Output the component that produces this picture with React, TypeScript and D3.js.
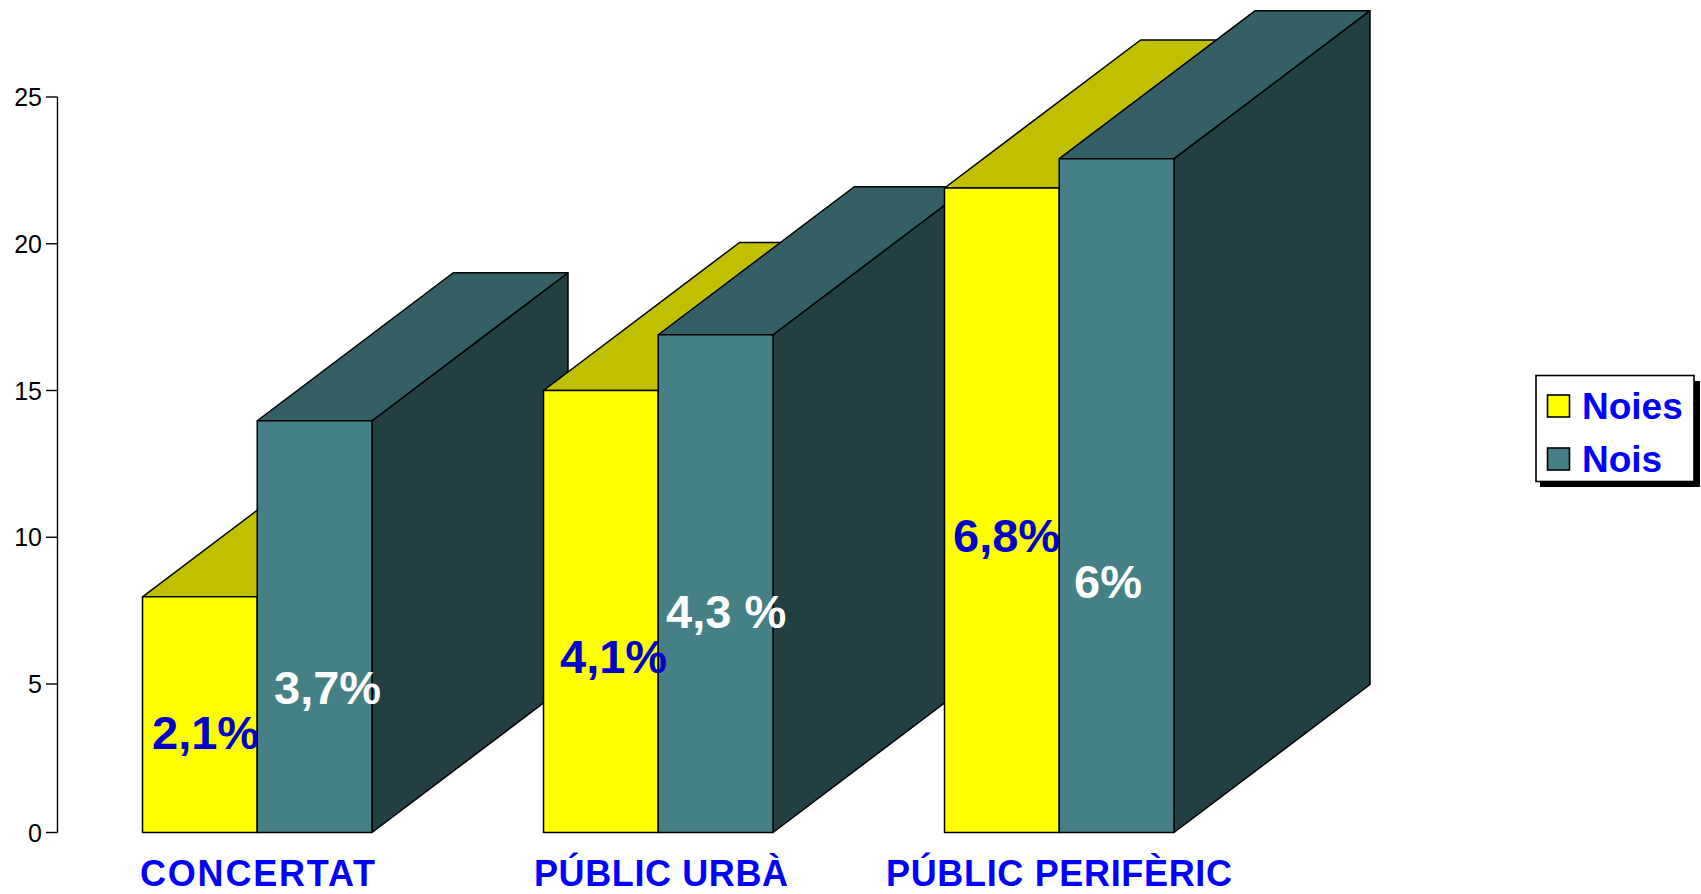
import React from "react";
import * as d3 from "d3";

// Survey groups and the two series plotted for each of them
const categories = ["CONCERTAT", "PÚBLIC URBÀ", "PÚBLIC PERIFÈRIC"];
const seriesNames = ["Noies", "Nois"];
const noies = [7.97, 15, 21.9];
const nois = [13.97, 16.9, 22.9];
const noiesLabels = ["2,1%", "4,1%", "6,8%"];
const noisLabels = ["3,7%", "4,3 %", "6%"];
const yTicks = [0, 5, 10, 15, 20, 25];

// Layout of the hand-placed annotations
const noiesLabelPos = [[152, 749], [560, 673], [953, 552]];
const noisLabelPos = [[274, 704], [666, 628], [1074, 598]];
const categoryLabelPos = [[140, 235], [534, 254], [886, 346]];

const palette = [
  { front: "#FFFF00", top: "#C0C000", side: "#808000" },
  { front: "#458087", top: "#345F65", side: "#223F43" },
];
const FONT = '"Liberation Sans", Arial, sans-serif';
const DEPTH_X = 196;
const DEPTH_Y = 148;
const BASE_Y = 832.5;

const y = d3.scaleLinear().domain([0, 5, 25]).range([BASE_Y, 684, 97]);
const xGroup = d3.scaleBand<string>().domain(categories).range([142.5, 1174]).paddingInner(0.4277);
const xBar = d3.scaleBand<string>().domain(seriesNames).range([0, xGroup.bandwidth()]);
const face = d3.line();

function Bar({ x0, w, value, colors }: { x0: number; w: number; value: number; colors: typeof palette[number] }) {
  const x1 = x0 + w;
  const yTop = y(value);
  const stroke = { stroke: "#000", strokeWidth: 1.5, strokeLinejoin: "round" as const };
  return (
    <g>
      <path
        d={face([[x1, BASE_Y], [x1 + DEPTH_X, BASE_Y - DEPTH_Y], [x1 + DEPTH_X, yTop - DEPTH_Y], [x1, yTop]]) + "Z"}
        fill={colors.side}
        {...stroke}
      />
      <path
        d={face([[x0, yTop], [x0 + DEPTH_X, yTop - DEPTH_Y], [x1 + DEPTH_X, yTop - DEPTH_Y], [x1, yTop]]) + "Z"}
        fill={colors.top}
        {...stroke}
      />
      <rect x={x0} y={yTop} width={w} height={BASE_Y - yTop} fill={colors.front} {...stroke} />
    </g>
  );
}

export default function App() {
  const series = [noies, nois];
  return (
    <svg
      width={1701}
      height={894}
      viewBox="0 0 1701 894"
      style={{ position: "absolute", left: 0, top: 0, background: "#fff", fontFamily: FONT }}
    >
      {/* value axis */}
      <line x1={57.5} x2={57.5} y1={y(25)} y2={y(0)} stroke="#000" strokeWidth={1.4} />
      {yTicks.map((t) => (
        <g key={t}>
          <line x1={46} x2={57.5} y1={y(t)} y2={y(t)} stroke="#000" strokeWidth={1.4} />
          <text x={42} y={y(t) + 9} textAnchor="end" fontSize={25} fill="#000">
            {t}
          </text>
        </g>
      ))}

      {/* bars, painted left to right so nearer groups overlap the extruded sides */}
      {categories.map((c, i) =>
        seriesNames.map((s, k) => (
          <Bar
            key={c + s}
            x0={xGroup(c)! + xBar(s)!}
            w={xBar.bandwidth()}
            value={series[k][i]}
            colors={palette[k]}
          />
        ))
      )}

      {/* percentage annotations */}
      {noiesLabels.map((t, i) => (
        <text key={t} x={noiesLabelPos[i][0]} y={noiesLabelPos[i][1]} fontSize={47} fontWeight="bold" fill="#0000CC">
          {t}
        </text>
      ))}
      {noisLabels.map((t, i) => (
        <text key={t} x={noisLabelPos[i][0]} y={noisLabelPos[i][1]} fontSize={47} fontWeight="bold" fill="#fff">
          {t}
        </text>
      ))}

      {/* category names */}
      {categories.map((c, i) => (
        <text
          key={c}
          x={categoryLabelPos[i][0]}
          y={886}
          fontSize={36}
          fontWeight="bold"
          fill="#0000FF"
          textLength={categoryLabelPos[i][1]}
          lengthAdjust="spacing"
        >
          {c}
        </text>
      ))}

      {/* legend */}
      <rect x={1540} y={381} width={160} height={106} fill="#000" />
      <rect x={1536} y={375.5} width={158} height={106} fill="#fff" stroke="#000" strokeWidth={1.6} />
      {seriesNames.map((s, k) => (
        <g key={s}>
          <rect x={1547.5} y={395 + k * 53} width={22} height={22} fill={palette[k].front} stroke="#000" strokeWidth={1.6} />
          <text x={1582} y={419 + k * 53} fontSize={37} fontWeight="bold" fill="#0000FF">
            {s}
          </text>
        </g>
      ))}
    </svg>
  );
}
